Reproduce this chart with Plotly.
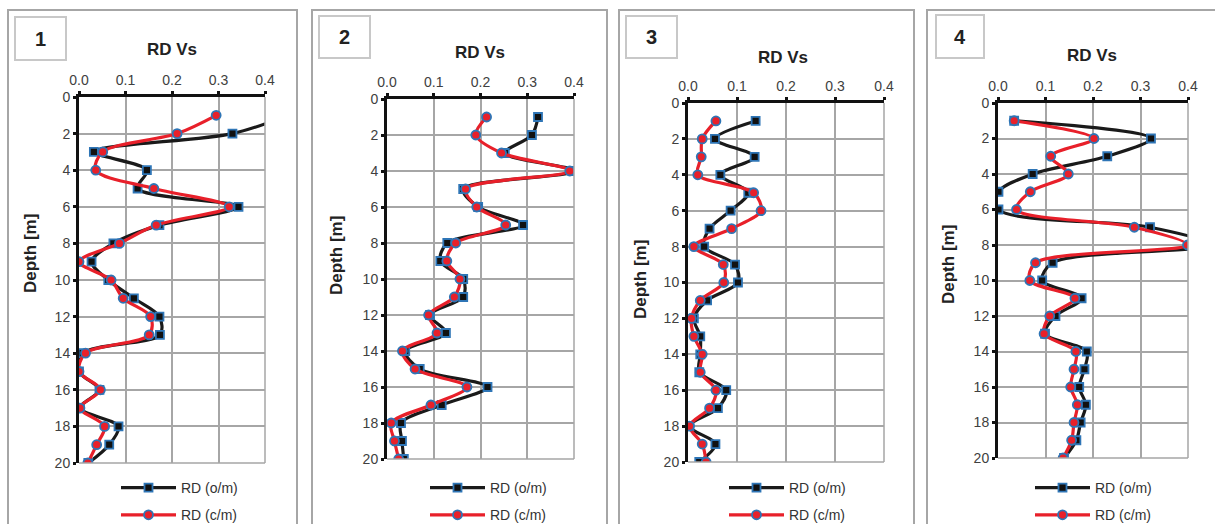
import plotly.graph_objects as go

W, H = 1215, 524

depth = list(range(1, 21))
x_ticks = [0.0, 0.1, 0.2, 0.3, 0.4]
x_tick_labels = ["0.0", "0.1", "0.2", "0.3", "0.4"]
y_ticks = list(range(0, 21, 2))
panel_labels = ["1", "2", "3", "4"]
series_names = ["RD (o/m)", "RD (c/m)"]

om_1 = [0.45, 0.33, 0.032, 0.146, 0.126, 0.343, 0.173, 0.074, 0.027, 0.063,
        0.118, 0.173, 0.174, 0.008, 0.0, 0.044, 0.002, 0.085, 0.065, 0.02]
cm_1 = [0.295, 0.211, 0.051, 0.036, 0.161, 0.323, 0.166, 0.087, 0.0, 0.069,
        0.095, 0.154, 0.151, 0.014, 0.0, 0.046, 0.002, 0.055, 0.038, 0.019]

om_2 = [0.323, 0.310, 0.252, 0.40, 0.163, 0.195, 0.291, 0.129, 0.114, 0.163,
        0.163, 0.092, 0.126, 0.039, 0.070, 0.215, 0.117, 0.030, 0.032, 0.036]
cm_2 = [0.213, 0.190, 0.245, 0.391, 0.168, 0.192, 0.254, 0.147, 0.128, 0.156,
        0.144, 0.089, 0.107, 0.033, 0.060, 0.171, 0.094, 0.009, 0.016, 0.025]

om_3 = [0.138, 0.055, 0.136, 0.066, 0.123, 0.087, 0.044, 0.033, 0.096, 0.102,
        0.039, 0.012, 0.025, 0.025, 0.023, 0.078, 0.061, 0.003, 0.056, 0.023]
cm_3 = [0.057, 0.029, 0.027, 0.020, 0.134, 0.149, 0.089, 0.012, 0.072, 0.073,
        0.025, 0.007, 0.012, 0.029, 0.025, 0.057, 0.044, 0.003, 0.029, 0.037]

om_4 = [0.034, 0.322, 0.230, 0.073, 0.001, 0.001, 0.320, 0.45, 0.115, 0.093,
        0.176, 0.121, 0.099, 0.187, 0.182, 0.171, 0.185, 0.174, 0.165, 0.139]
cm_4 = [0.034, 0.202, 0.111, 0.148, 0.068, 0.039, 0.287, 0.399, 0.079, 0.067,
        0.162, 0.109, 0.097, 0.164, 0.160, 0.153, 0.167, 0.160, 0.155, 0.137]

om_all = [om_1, om_2, om_3, om_4]
cm_all = [cm_1, cm_2, cm_3, cm_4]

# pixel geometry of each panel: plot area (x0, x1, y0, y1), outer box, number box, titles
plots = [(79, 265, 97, 463), (387, 574, 99, 459), (688, 884, 103, 462), (998, 1188, 103, 458)]
boxes = [(8, 297), (312, 607), (619, 914), (927, 1225)]
numboxes = [(15, 66, 17, 60), (319, 370, 16, 58), (626, 677, 16, 58), (936, 984, 15, 58)]
title_pos = [(172, 50), (480, 52), (783, 57), (1092, 56)]
depth_pos = [(30, 254), (337, 256), (640, 280), (948, 265)]
legend_x = [116, 425, 724, 1030]

FONT = "Liberation Sans, Arial, sans-serif"
GRID = "#a6a6a6"
BLUE = "#2e75b6"

def px(x):
    return x / W

def py(y):
    return 1 - y / H

fig = go.Figure()
shapes = []
annotations = []
layout = {}

for i in range(4):
    n = "" if i == 0 else str(i + 1)
    xa, ya = "x" + n, "y" + n
    lg = "legend" + n
    x0, x1, y0, y1 = plots[i]
    fig.add_trace(go.Scatter(
        x=om_all[i], y=depth, xaxis=xa, yaxis=ya, name=series_names[0],
        mode="lines+markers", line=dict(color="#1a1a1a", width=3.2, shape="spline", smoothing=0.9),
        marker=dict(symbol="square", size=8, color="#111111", line=dict(color=BLUE, width=1.8)),
        legend=lg, legendgroup="a" + n,
    ))
    fig.add_trace(go.Scatter(
        x=cm_all[i], y=depth, xaxis=xa, yaxis=ya, name=series_names[1],
        mode="lines+markers", line=dict(color="#e8202a", width=3.2, shape="spline", smoothing=0.9),
        marker=dict(symbol="circle", size=9, color="#e8202a", line=dict(color=BLUE, width=1.8)),
        legend=lg, legendgroup="b" + n,
    ))
    layout["xaxis" + n] = dict(
        domain=[px(x0), px(x1)], anchor=ya, side="top", range=[0, 0.4], automargin=False,
        tickvals=x_ticks, ticktext=x_tick_labels, showgrid=True, gridcolor=GRID, gridwidth=1.5,
        showline=True, linecolor="#111111", linewidth=3, ticks="outside", ticklen=3,
        tickwidth=3, tickcolor="#111111", zeroline=False,
        tickfont=dict(family=FONT, size=14, color="#404040"), fixedrange=True,
    )
    layout["yaxis" + n] = dict(
        domain=[py(y1), py(y0)], anchor=xa, range=[20, 0], tickvals=y_ticks, automargin=False,
        showgrid=True, gridcolor=GRID, gridwidth=1.5, showline=True, linecolor="#111111",
        linewidth=3, ticks="outside", ticklen=3, tickwidth=3, tickcolor="#111111",
        zeroline=False, tickfont=dict(family=FONT, size=14, color="#404040"), fixedrange=True,
    )
    # right/bottom border grid lines
    shapes.append(dict(type="line", xref="paper", yref="paper", x0=px(x1), x1=px(x1),
                       y0=py(y1), y1=py(y0), line=dict(color=GRID, width=1.5)))
    shapes.append(dict(type="line", xref="paper", yref="paper", x0=px(x0), x1=px(x1),
                       y0=py(y1), y1=py(y1), line=dict(color=GRID, width=1.5)))
    # outer box
    bx0, bx1 = boxes[i]
    shapes.append(dict(type="rect", xref="paper", yref="paper", x0=px(bx0), x1=px(bx1),
                       y0=py(H + 20), y1=py(10), line=dict(color="#a6a6a6", width=2),
                       fillcolor="rgba(0,0,0,0)", layer="below"))
    nx0, nx1, ny0, ny1 = numboxes[i]
    shapes.append(dict(type="rect", xref="paper", yref="paper", x0=px(nx0), x1=px(nx1),
                       y0=py(ny1), y1=py(ny0), line=dict(color="#c8c8c8", width=2),
                       fillcolor="white"))
    annotations.append(dict(xref="paper", yref="paper", x=px((nx0 + nx1) / 2),
                            y=py((ny0 + ny1) / 2), text="<b>" + panel_labels[i] + "</b>",
                            showarrow=False, font=dict(family=FONT, size=20, color="#222222"),
                            xanchor="center", yanchor="middle"))
    tx, ty = title_pos[i]
    annotations.append(dict(xref="paper", yref="paper", x=px(tx), y=py(ty),
                            text="<b>RD Vs</b>", showarrow=False,
                            font=dict(family=FONT, size=17, color="#222222"),
                            xanchor="center", yanchor="middle"))
    dx, dy = depth_pos[i]
    annotations.append(dict(xref="paper", yref="paper", x=px(dx), y=py(dy),
                            text="<b>Depth [m]</b>", showarrow=False, textangle=-90,
                            font=dict(family=FONT, size=17, color="#222222"),
                            xanchor="center", yanchor="middle"))
    layout[lg] = dict(x=px(legend_x[i]), y=-7 / H, xanchor="left", yanchor="bottom",
                      bgcolor="rgba(0,0,0,0)", itemwidth=55, tracegroupgap=6,
                      traceorder="grouped",
                      font=dict(family=FONT, size=14, color="#333333"))

fig.update_layout(
    width=W, height=H, margin=dict(l=0, r=0, t=0, b=0, autoexpand=False),
    paper_bgcolor="white", plot_bgcolor="white",
    shapes=shapes, annotations=annotations, showlegend=True, **layout,
)

fig.write_html("out.html")
